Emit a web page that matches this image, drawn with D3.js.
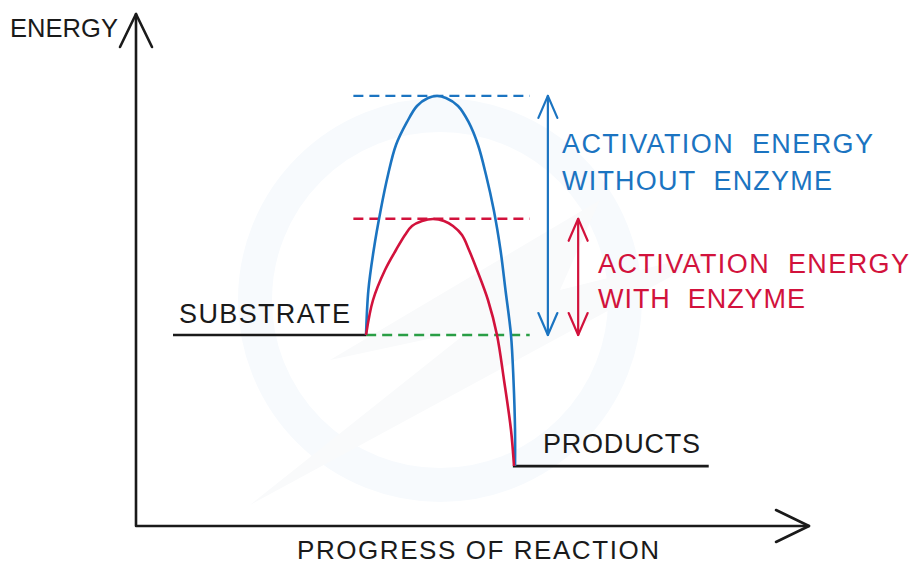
<!DOCTYPE html>
<html>
<head>
<meta charset="utf-8">
<script src="https://cdn.jsdelivr.net/npm/d3@7"></script>
<style>
  html, body { margin: 0; padding: 0; background: #fff; }
  svg { display: block; }
  text { font-family: "Liberation Sans", "Noto Sans", sans-serif; font-size: 27px; }
</style>
</head>
<body>
<svg id="chart" width="916" height="565"></svg>
<script>
// ---------- DATA (progress of reaction 0-100, energy 0-100) ----------
const axisLabels = ["ENERGY", "PROGRESS OF REACTION"];
const levelNames = ["SUBSTRATE", "PRODUCTS"];
const substrateEnergy = 37.3;
const productsEnergy = 11.7;
const substrateRange = [5.5, 34.2];
const productsRange = [56.0, 85.1];

const peakWithout = 84.0;   // activation peak without enzyme
const peakWith = 60.0;      // activation peak with enzyme

const curveWithoutEnzyme = [
  [34.18, 37.30], [34.53, 46.09], [35.32, 53.91], [36.36, 61.72], [37.44, 68.55],
  [38.63, 74.41], [40.27, 78.91], [41.75, 82.03], [43.39, 83.59], [44.73, 83.98],
  [46.06, 83.59], [47.85, 82.03], [49.41, 78.91], [50.82, 74.41], [52.01, 68.55],
  [53.16, 61.72], [54.16, 53.91], [54.90, 46.09], [55.72, 37.30], [56.09, 28.52],
  [56.32, 18.75], [56.32, 11.72]
];
const curveWithEnzyme = [
  [34.18, 37.30], [35.22, 44.14], [37.00, 50.00], [38.63, 53.91], [39.97, 56.84],
  [41.01, 58.59], [42.50, 59.57], [44.13, 59.96], [45.77, 59.57], [47.10, 58.59],
  [48.44, 56.84], [49.48, 53.91], [50.67, 50.00], [52.30, 44.14], [53.64, 37.30],
  [54.68, 28.52], [55.72, 18.75], [56.17, 11.72]
];
const guideRange = [32.3, 58.5];
const arrowPositions = [61.2, 65.7];   // without, with
const annotationWithout = ["ACTIVATION  ENERGY", "WITHOUT  ENZYME"];
const annotationWith = ["ACTIVATION  ENERGY", "WITH  ENZYME"];

// ---------- STYLE ----------
const BLUE = "#1b74c1", RED = "#d2123c", GREEN = "#2a9e45", INK = "#1a1a1a";

const svg = d3.select("#chart");
const x = d3.scaleLinear().domain([0, 100]).range([136, 809]);
const y = d3.scaleLinear().domain([0, 100]).range([526, 14]);

// very faint watermark
const wm = svg.append("g");
wm.append("circle").attr("cx", 440).attr("cy", 300).attr("r", 185)
  .attr("fill", "none").attr("stroke", "#f7fafd").attr("stroke-width", 34);
wm.append("path")
  .attr("d", "M250,505 L470,330 L330,360 L600,200 L560,290 L720,250 Z")
  .attr("fill", "#f9fafb");

const line = d3.line().x(d => x(d[0])).y(d => y(d[1]));

// axes
const axG = svg.append("g").attr("stroke", INK).attr("stroke-width", 2.6)
  .attr("fill", "none").attr("stroke-linecap", "round").attr("stroke-linejoin", "round");
axG.append("path").attr("d", line([[0, 100], [0, 0], [100, 0]]));
axG.append("path").attr("d",
  `M${x(0) - 16},${y(100) + 33} L${x(0)},${y(100)} L${x(0) + 16},${y(100) + 33}`);
axG.append("path").attr("d",
  `M${x(100) - 33},${y(0) - 16} L${x(100)},${y(0)} L${x(100) - 33},${y(0) + 16}`);

// dashed guides
const guides = [
  { e: peakWithout, c: BLUE, start: guideRange[0] },
  { e: peakWith, c: RED, start: guideRange[0] },
  { e: substrateEnergy, c: GREEN, start: substrateRange[1] }
];
svg.append("g").selectAll("path").data(guides).join("path")
  .attr("d", d => line([[d.start, d.e], [guideRange[1], d.e]]))
  .attr("stroke", d => d.c).attr("stroke-width", 2.4).attr("fill", "none")
  .attr("stroke-dasharray", "10,6");

// energy levels
svg.append("g").attr("stroke", INK).attr("stroke-width", 2.6).attr("fill", "none")
  .selectAll("path").data([
    [[substrateRange[0], substrateEnergy], [substrateRange[1], substrateEnergy]],
    [[productsRange[0], productsEnergy], [productsRange[1], productsEnergy]]
  ]).join("path").attr("d", line);

// curves
const smooth = d3.line().x(d => x(d[0])).y(d => y(d[1])).curve(d3.curveCatmullRom.alpha(0.5));
svg.append("path").attr("d", smooth(curveWithoutEnzyme))
  .attr("stroke", BLUE).attr("stroke-width", 2.6).attr("fill", "none");
svg.append("path").attr("d", smooth(curveWithEnzyme))
  .attr("stroke", RED).attr("stroke-width", 2.6).attr("fill", "none");

// double arrows
function dblArrow(px, top, bottom, color) {
  const g = svg.append("g").attr("stroke", color).attr("stroke-width", 2.2)
    .attr("fill", "none").attr("stroke-linecap", "round").attr("stroke-linejoin", "round");
  const X = x(px), T = y(top), B = y(bottom);
  g.append("path").attr("d", `M${X},${T} L${X},${B}`);
  g.append("path").attr("d", `M${X - 9.5},${T + 22} L${X},${T} L${X + 9.5},${T + 22}`);
  g.append("path").attr("d", `M${X - 9.5},${B - 22} L${X},${B} L${X + 9.5},${B - 22}`);
}
dblArrow(arrowPositions[0], peakWithout, substrateEnergy, BLUE);
dblArrow(arrowPositions[1], peakWith, substrateEnergy, RED);

// texts
function label(txt, tx, ty, len, color, size) {
  svg.append("text").attr("x", tx).attr("y", ty).attr("fill", color)
    .attr("textLength", len).attr("lengthAdjust", "spacing")
    .style("font-size", (size || 27) + "px")
    .style("white-space", "pre").text(txt);
}
label(axisLabels[0], 10, 37, 108, INK, 25.5);
label(axisLabels[1], 297, 559, 362, INK, 26);
label(levelNames[0], 179, 323, 171, INK);
label(levelNames[1], 543, 453, 157, INK);
label(annotationWithout[0], 562, 153, 311, BLUE);
label(annotationWithout[1], 562, 190, 270, BLUE);
label(annotationWith[0], 598, 273, 311, RED);
label(annotationWith[1], 598, 308, 207, RED);
</script>
</body>
</html>
